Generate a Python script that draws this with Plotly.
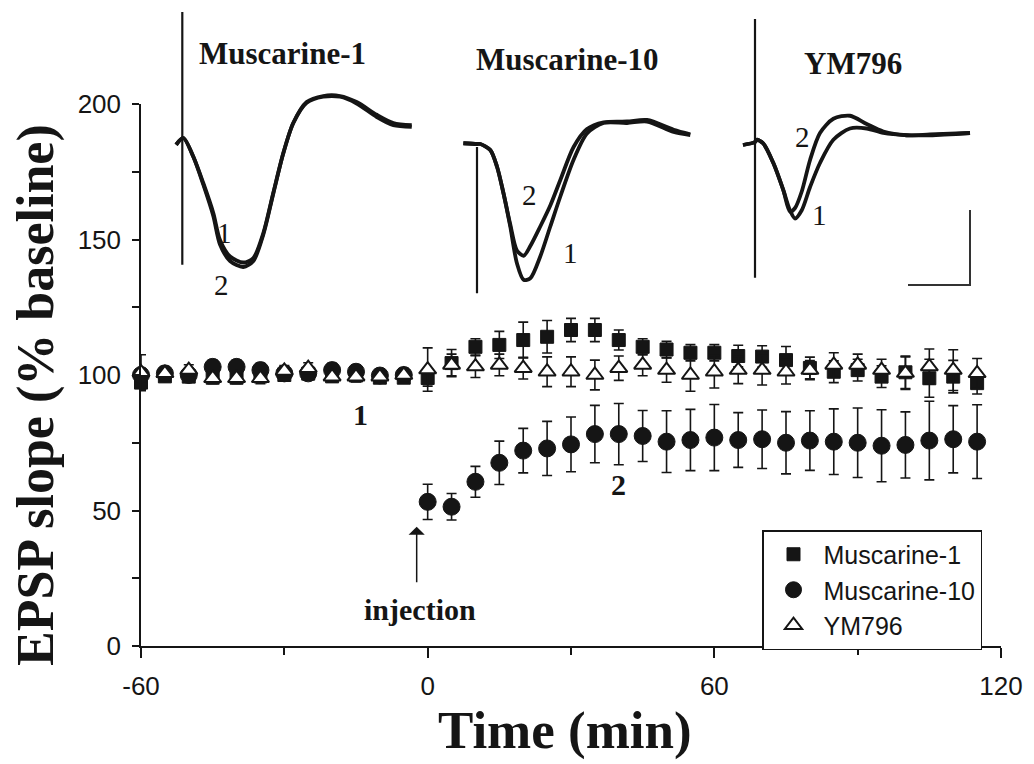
import plotly.graph_objects as go

FIG_W, FIG_H = 1034, 764

# ---------------- time course (min) and EPSP slope (% baseline) ----------------
time_min = [-60, -55, -50, -45, -40, -35, -30, -25, -20, -15, -10, -5,
            0, 5, 10, 15, 20, 25, 30, 35, 40, 45, 50, 55,
            60, 65, 70, 75, 80, 85, 90, 95, 100, 105, 110, 115]

musc1_mean = [97.2, 99.5, 99.4, 99.0, 99.0, 99.5, 100.0, 100.5, 99.5, 99.8, 99.0, 99.0,
              98.9, 104.4, 110.4, 111.1, 112.9, 114.1, 116.6, 116.6, 112.9, 110.4, 109.4, 108.2,
              108.2, 107.0, 106.8, 105.5, 102.6, 101.2, 101.8, 99.4, 101.0, 98.8, 99.4, 97.0]
musc1_sem = [3.0, 2.0, 2.0, 2.0, 2.0, 2.0, 2.0, 2.0, 2.0, 2.0, 2.0, 2.0,
             3.0, 5.0, 3.0, 5.0, 6.6, 6.0, 4.3, 4.3, 3.7, 3.0, 3.0, 3.0,
             3.0, 4.0, 4.0, 5.0, 4.0, 4.0, 4.0, 4.0, 6.0, 7.0, 6.0, 4.0]

musc10_mean = [100.0, 100.6, 100.0, 103.0, 103.0, 101.8, 100.6, 100.6, 101.8, 101.2, 99.8, 100.0,
               53.2, 51.4, 60.6, 67.6, 72.1, 72.9, 74.4, 78.2, 78.2, 77.5, 75.4, 76.0,
               76.9, 76.0, 76.3, 75.0, 75.8, 75.4, 75.0, 73.9, 74.2, 75.8, 76.3, 75.4]
musc10_sem = [2.5, 2.5, 2.5, 2.5, 2.5, 2.5, 2.5, 2.5, 2.5, 2.5, 2.5, 2.5,
              6.5, 4.9, 5.7, 8.0, 8.2, 10.0, 10.1, 10.6, 11.3, 9.4, 11.4, 11.3,
              12.2, 10.1, 10.8, 11.5, 11.0, 12.1, 12.8, 13.3, 12.2, 14.5, 12.4, 13.6]

ym796_mean = [101.0, 100.6, 101.8, 98.8, 98.8, 98.8, 101.5, 102.5, 99.4, 99.4, 99.4, 100.0,
              102.0, 103.7, 103.1, 103.7, 102.5, 101.2, 101.2, 100.0, 102.5, 103.7, 101.8, 100.0,
              101.2, 101.8, 101.8, 101.2, 101.8, 103.7, 103.7, 101.8, 100.7, 103.1, 101.8, 100.6]
ym796_sem = [6.5, 2.0, 2.0, 2.0, 2.0, 2.0, 2.0, 2.0, 2.0, 2.0, 2.0, 2.0,
             8.0, 4.0, 4.0, 4.0, 4.0, 5.5, 5.5, 5.5, 4.5, 4.0, 4.5, 6.0,
             6.0, 5.0, 5.5, 4.5, 3.5, 4.5, 4.0, 4.0, 6.0, 6.5, 7.5, 5.5]

x_tickvals = [-60, 0, 60, 120]
x_ticktext = ["-60", "0", "60", "120"]
x_minor = 30
y_tick0, y_dtick, y_minor = 0, 50, 25

# phase markers and injection
phase1 = dict(t=-14.0, v=85.5, text="1")
phase2 = dict(t=40.0, v=59.5, text="2")
injection_t = -2.3
injection_tip, injection_tail = 44.0, 23.0
injection_label_v = 13.3

# ---------------- example field EPSPs (ms after stimulus, mV from baseline) ----------------
m1_t = [-0.5, 0.08, 0.89, 1.69, 2.5, 3.04, 3.85, 4.92, 5.73, 6.53,
        7.34, 8.15, 8.95, 10.03, 11.37, 12.72, 14.06, 15.68, 17.02, 18.5]
m1_v1 = [-0.05, 0.04, -0.21, -0.56, -0.96, -1.32, -1.54, -1.62, -1.56, -1.23,
         -0.69, -0.16, 0.24, 0.51, 0.59, 0.59, 0.50, 0.32, 0.21, 0.19]
m1_v2 = [-0.05, 0.04, -0.21, -0.58, -1.00, -1.38, -1.60, -1.68, -1.60, -1.25,
         -0.70, -0.16, 0.24, 0.52, 0.60, 0.60, 0.52, 0.35, 0.24, 0.21]
m1_artifact = [1.72, -1.65]

m10_t = [-1.1, 0.0, 0.27, 1.07, 1.61, 2.14, 2.68, 3.22, 3.76, 4.30,
         5.10, 5.91, 6.72, 7.79, 8.87, 10.21, 12.10, 13.71, 15.86, 17.2]
m10_v1 = [0.01, 0.0, 0.0, -0.08, -0.30, -0.66, -1.10, -1.59, -1.81, -1.79,
          -1.50, -1.10, -0.70, -0.21, 0.14, 0.28, 0.28, 0.30, 0.16, 0.12]
m10_v2 = [0.01, 0.0, 0.0, -0.08, -0.30, -0.66, -1.07, -1.42, -1.49, -1.36,
          -1.10, -0.82, -0.48, -0.04, 0.20, 0.29, 0.30, 0.32, 0.19, 0.13]
m10_artifact = [-0.04, -1.99]

ym_t = [-0.97, 0.0, 0.14, 0.67, 1.48, 2.28, 2.82, 3.23, 3.77, 4.44,
        5.24, 6.32, 7.66, 9.01, 10.35, 12.23, 14.11, 17.34]
ym_v1 = [-0.04, 0.0, 0.03, -0.02, -0.28, -0.64, -0.91, -1.02, -0.91, -0.60,
         -0.28, 0.03, 0.18, 0.18, 0.12, 0.09, 0.09, 0.12]
ym_v2 = [-0.04, 0.0, 0.03, -0.02, -0.28, -0.64, -0.93, -0.88, -0.66, -0.24,
         0.12, 0.31, 0.35, 0.24, 0.14, 0.09, 0.10, 0.12]
ym_artifact = [1.64, -1.81]

scale_ms, scale_mv = 5.0, 1.0
scale_corner = (17.34, -1.907)

INK = "#151515"
SERIF = "Liberation Serif"
SANS = "Liberation Sans"

fig = go.Figure()


def time_course(name, y, err, symbol, size, fill, lw):
    return go.Scatter(
        x=time_min, y=y, name=name, mode="markers",
        marker=dict(symbol=symbol, size=size, color=fill, line=dict(color=INK, width=lw)),
        error_y=dict(type="data", array=err, visible=True, color=INK, thickness=1.6, width=5),
        cliponaxis=False, xaxis="x", yaxis="y",
    )


fig.add_trace(time_course("Muscarine-1", musc1_mean, musc1_sem, "square", 13, INK, 1))
fig.add_trace(time_course("Muscarine-10", musc10_mean, musc10_sem, "circle", 17, INK, 1))
fig.add_trace(time_course("YM796", ym796_mean, ym796_sem, "triangle-up", 15, "white", 2))

# ---------------- inset axes ----------------
PX_PER_MS, PX_PER_MV = 12.4, 75.0
T_RANGE = (-2.5, 20.0)
V_RANGE = (-2.3, 1.85)


def inset_domain(stim_px, base_py):
    x0 = stim_px + T_RANGE[0] * PX_PER_MS
    x1 = stim_px + T_RANGE[1] * PX_PER_MS
    ytop = base_py - V_RANGE[1] * PX_PER_MV
    ybot = base_py - V_RANGE[0] * PX_PER_MV
    return [x0 / FIG_W, x1 / FIG_W], [(FIG_H - ybot) / FIG_H, (FIG_H - ytop) / FIG_H]


insets = [
    dict(ax="2", anchor=(182.3, 141), t=m1_t, v=[m1_v1, m1_v2], art=m1_artifact,
         title="Muscarine-1", title_pos=(8.1, 1.17),
         labels=[("1", 3.44, -1.23), ("2", 3.2, -1.92)]),
    dict(ax="3", anchor=(477.0, 144), t=m10_t, v=[m10_v1, m10_v2], art=m10_artifact,
         title="Muscarine-10", title_pos=(7.3, 1.13),
         labels=[("2", 4.27, -0.68), ("1", 7.5, -1.45)]),
    dict(ax="4", anchor=(755.0, 142), t=ym_t, v=[ym_v1, ym_v2], art=ym_artifact,
         title="YM796", title_pos=(7.9, 1.04),
         labels=[("2", 3.79, 0.07), ("1", 5.24, -0.97)]),
]

annotations = []
for ins in insets:
    xa, ya = "x" + ins["ax"], "y" + ins["ax"]
    dx, dy = inset_domain(*ins["anchor"])
    axis_style = dict(visible=False, showgrid=False, zeroline=False, fixedrange=True)
    fig.update_layout({
        "xaxis" + ins["ax"]: dict(domain=dx, range=list(T_RANGE), anchor=ya, **axis_style),
        "yaxis" + ins["ax"]: dict(domain=dy, range=list(V_RANGE), anchor=xa, **axis_style),
    })
    # stimulus artifact
    fig.add_trace(go.Scatter(x=[0, 0], y=ins["art"], mode="lines", xaxis=xa, yaxis=ya,
                             line=dict(color=INK, width=2.2), showlegend=False, hoverinfo="skip"))
    for v in ins["v"]:
        fig.add_trace(go.Scatter(x=ins["t"], y=v, mode="lines", xaxis=xa, yaxis=ya,
                                 line=dict(color=INK, width=3.8, shape="spline", smoothing=0.8),
                                 showlegend=False, hoverinfo="skip"))
    annotations.append(dict(x=ins["title_pos"][0], y=ins["title_pos"][1], xref=xa, yref=ya,
                            text=ins["title"], showarrow=False,
                            font=dict(family=SERIF, size=31, color=INK, weight="bold")))
    for txt, lt, lv in ins["labels"]:
        annotations.append(dict(x=lt, y=lv, xref=xa, yref=ya, text=txt, showarrow=False,
                                font=dict(family=SERIF, size=29, color=INK)))

# calibration bar on the last inset
cx, cy = scale_corner
fig.add_trace(go.Scatter(x=[cx - scale_ms, cx, cx], y=[cy, cy, cy + scale_mv], mode="lines",
                         xaxis="x4", yaxis="y4", line=dict(color="#333", width=2),
                         showlegend=False, hoverinfo="skip"))

# ---------------- main annotations ----------------
for ph in (phase1, phase2):
    annotations.append(dict(x=ph["t"], y=ph["v"], xref="x", yref="y", text=ph["text"],
                            showarrow=False, font=dict(family=SERIF, size=30, color=INK, weight="bold")))

annotations.append(dict(x=injection_t, y=injection_tip, xref="x", yref="y",
                        ax=injection_t, ay=injection_tail, axref="x", ayref="y",
                        text="", showarrow=True, arrowhead=1, arrowsize=1.8,
                        arrowwidth=1.5, arrowcolor=INK))
annotations.append(dict(x=injection_t + 0.6, y=injection_label_v, xref="x", yref="y",
                        text="injection", showarrow=False,
                        font=dict(family=SERIF, size=30, color=INK, weight="bold")))

annotations.append(dict(x=565 / FIG_W, y=(FIG_H - 730) / FIG_H, xref="paper", yref="paper",
                        text="Time (min)", showarrow=False, xanchor="center", yanchor="middle",
                        font=dict(family=SERIF, size=53, color=INK, weight="bold")))
annotations.append(dict(x=36 / FIG_W, y=(FIG_H - 395) / FIG_H, xref="paper", yref="paper",
                        text="EPSP slope (% baseline)", showarrow=False, textangle=-90,
                        xanchor="center", yanchor="middle",
                        font=dict(family=SERIF, size=52, color=INK, weight="bold")))

tick_font = dict(family=SANS, size=26, color=INK)
fig.update_layout(
    width=FIG_W, height=FIG_H,
    margin=dict(l=0, r=0, t=0, b=0),
    paper_bgcolor="white", plot_bgcolor="rgba(0,0,0,0)",
    xaxis=dict(domain=[141 / FIG_W, 1001 / FIG_W], range=[-60, 120], anchor="y",
               tickmode="array", tickvals=x_tickvals, ticktext=x_ticktext,
               ticks="outside", ticklen=10, tickwidth=1.5,
               tickcolor=INK, showline=True, linecolor=INK, linewidth=1.5,
               showgrid=False, zeroline=False, tickfont=tick_font, ticklabelstandoff=6,
               minor=dict(tickmode="linear", tick0=x_tickvals[0], dtick=x_minor, ticks="outside",
                          ticklen=7, tickwidth=1.5, tickcolor=INK, showgrid=False),
               automargin=False, fixedrange=True),
    yaxis=dict(domain=[(FIG_H - 646) / FIG_H, (FIG_H - 104) / FIG_H], range=[0, 200], anchor="x",
               tick0=y_tick0, dtick=y_dtick, ticks="outside", ticklen=7, tickwidth=1.5,
               tickcolor=INK, showline=True, linecolor=INK, linewidth=1.5,
               showgrid=False, zeroline=False, tickfont=tick_font, ticklabelstandoff=6,
               minor=dict(tick0=y_tick0, dtick=y_minor, ticks="outside", ticklen=7,
                          tickwidth=1.5, tickcolor=INK, showgrid=False),
               automargin=False, fixedrange=True),
    legend=dict(x=762 / FIG_W, y=(FIG_H - 530) / FIG_H, xanchor="left", yanchor="top",
                bordercolor=INK, borderwidth=1.5, bgcolor="white",
                font=dict(family=SANS, size=25, color=INK), itemwidth=50, tracegroupgap=0),
    annotations=annotations,
    showlegend=True,
)

fig.write_html("out.html")
